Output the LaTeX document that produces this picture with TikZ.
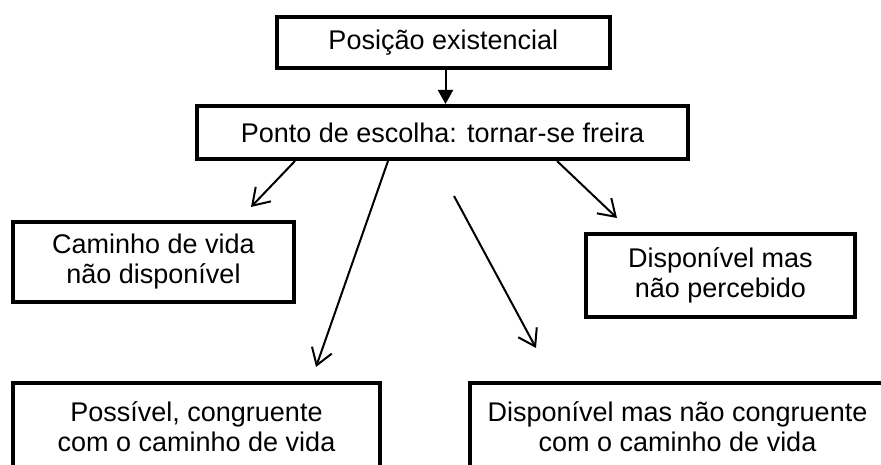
\documentclass[tikz,border=0pt]{standalone}
\usepackage{fontspec}
\setmainfont{Liberation Sans}
\usetikzlibrary{arrows.meta}
\begin{document}
\begin{tikzpicture}[x=1pt,y=-1pt,
  box/.style={draw=black,line width=4pt,rectangle,inner sep=0pt,align=center,
    font=\fontsize{27}{30}\selectfont},
  conn/.style={line width=2pt,-{Straight Barb[length=16pt,width=21pt,line width=2pt]}},
  mainconn/.style={line width=2pt,-{Triangle[length=14pt,width=15pt]}}]
\useasboundingbox (0,0) rectangle (881,465);
\node[box,minimum width=333pt,minimum height=51pt] (top) at (443.3,42.5) {Posição existencial};
\node[box,minimum width=491pt,minimum height=53pt] (choice) at (442.5,132.5) {Ponto de escolha: tornar-se freira};
\node[box,minimum width=281pt,minimum height=80pt] (nd) at (153.5,262) {Caminho de vida\\não disponível};
\node[box,minimum width=269pt,minimum height=83pt] (np) at (720.5,275.5) {Disponível mas\\não percebido};
\node[box,minimum width=367pt,minimum height=88pt] (pc) at (196.5,427) {Possível, congruente\\com o caminho de vida};
\node[box,minimum width=415pt,minimum height=88pt] (dnc) at (677.5,427) {Disponível mas não congruente\\com o caminho de vida};
\coordinate (e1) at (251,207);
\coordinate (e2) at (316,367);
\coordinate (s3) at (454,196);
\coordinate (e3) at (536,348);
\coordinate (e4) at (617,218);
\draw[mainconn] (top.south -| 445.5,0) -- (choice.north -| 445.5,0);
\draw[conn] (choice.south -| 295,0) -- (e1);
\draw[conn] (choice.south -| 388,0) -- (e2);
\draw[conn] (s3) -- (e3);
\draw[conn] (choice.south -| 557,0) -- (e4);
\end{tikzpicture}
\end{document}
